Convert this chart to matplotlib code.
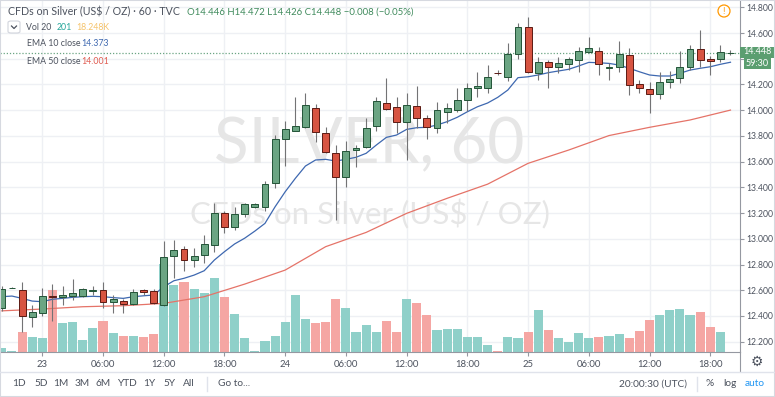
import numpy as np
import matplotlib
matplotlib.use('Agg')
import matplotlib.pyplot as plt
from matplotlib.patches import Rectangle, Ellipse, FancyBboxPatch
from matplotlib.lines import Line2D

plt.rcParams['font.family'] = ['Lato', 'DejaVu Sans']

# ── data: hourly candles, hour 0 = day 23 00:00 ──────────
hours = np.arange(-4, 69)
opens = [12.459, 12.620, 12.599, 12.389, 12.425, 12.555, 12.550, 12.557, 12.557, 12.592,
         12.599, 12.506, 12.518, 12.493, 12.602, 12.594, 12.485, 12.866, 12.921, 12.833,
         12.874, 12.954, 13.200, 13.089, 13.193, 13.249, 13.249, 13.436, 13.774, 13.841,
         13.872, 14.014, 13.820, 13.665, 13.483, 13.690, 13.716, 13.877, 14.059, 14.022,
         13.911, 14.032, 13.937, 13.864, 13.988, 13.999, 14.079, 14.175, 14.170, 14.293,
         14.260, 14.435, 14.644, 14.287, 14.377, 14.338, 14.356, 14.390, 14.455, 14.460,
         14.330, 14.338, 14.429, 14.201, 14.162, 14.126, 14.219, 14.247, 14.338, 14.473,
         14.395, 14.395, 14.446]
highs = [12.630, 12.623, 12.662, 12.485, 12.615, 12.646, 12.633, 12.687, 12.615, 12.633,
         12.662, 12.563, 12.530, 12.607, 12.607, 12.609, 12.985, 12.990, 12.946, 12.926,
         13.030, 13.281, 13.218, 13.245, 13.276, 13.280, 13.452, 13.807, 13.916, 14.105,
         14.131, 14.046, 13.867, 13.729, 13.763, 13.729, 13.937, 14.105, 14.248, 14.105,
         14.136, 14.188, 13.963, 14.066, 14.058, 14.175, 14.209, 14.299, 14.351, 14.310,
         14.520, 14.680, 14.722, 14.416, 14.390, 14.416, 14.416, 14.489, 14.571, 14.489,
         14.364, 14.541, 14.481, 14.235, 14.222, 14.299, 14.307, 14.462, 14.507, 14.623,
         14.421, 14.507, 14.472]
lows = [12.440, 12.617, 12.277, 12.312, 12.400, 12.363, 12.485, 12.524, 12.550, 12.563,
        12.459, 12.421, 12.423, 12.485, 12.563, 12.493, 12.477, 12.697, 12.752, 12.778,
        12.809, 12.900, 13.047, 13.068, 13.172, 13.240, 13.218, 13.392, 13.566, 13.838,
        13.859, 13.755, 13.665, 13.146, 13.400, 13.561, 13.704, 13.838, 14.000, 13.820,
        13.613, 13.859, 13.774, 13.820, 13.903, 13.988, 13.996, 14.105, 14.131, 14.270,
        14.229, 14.396, 14.287, 14.235, 14.170, 14.287, 14.312, 14.299, 14.442, 14.273,
        14.235, 14.299, 14.118, 14.131, 13.980, 14.085, 14.175, 14.209, 14.312, 14.338,
        14.273, 14.377, 14.426]
closes = [12.607, 12.621, 12.397, 12.428, 12.557, 12.545, 12.563, 12.581, 12.610, 12.602,
          12.508, 12.529, 12.490, 12.589, 12.584, 12.503, 12.856, 12.913, 12.833, 12.866,
          12.959, 13.203, 13.089, 13.190, 13.268, 13.268, 13.426, 13.776, 13.854, 13.880,
          14.040, 13.828, 13.672, 13.483, 13.683, 13.704, 13.859, 14.074, 14.007, 13.906,
          14.040, 13.937, 13.872, 13.999, 14.019, 14.079, 14.175, 14.188, 14.260, 14.289,
          14.437, 14.644, 14.295, 14.372, 14.338, 14.364, 14.398, 14.460, 14.486, 14.357,
          14.338, 14.435, 14.196, 14.175, 14.126, 14.222, 14.243, 14.338, 14.473, 14.390,
          14.382, 14.455, 14.448]
# volume in thousands
volume = [3.2, 0.8, 16.2, 12.0, 11.4, 49.6, 23.2, 24.0, 9.6, 19.4,
          24.8, 15.2, 12.8, 13.0, 12.0, 14.4, 70.2, 53.6, 56.2, 50.2,
          47.4, 59.0, 44.2, 30.4, 11.0, 1.0, 9.0, 12.8, 24.2, 45.6,
          26.2, 23.0, 24.0, 42.6, 35.4, 16.2, 21.4, 16.2, 25.0, 16.2,
          42.6, 39.0, 29.6, 17.6, 18.4, 18.2, 12.2, 11.8, 5.6, 1.0,
          12.2, 11.0, 16.2, 33.6, 17.6, 11.4, 8.2, 15.0, 11.0, 12.0,
          12.8, 14.4, 11.4, 17.0, 25.6, 29.8, 33.6, 34.6, 29.6, 32.0,
          19.8, 16.2, 0.2]
ema10 = [12.550, 12.555, 12.537, 12.516, 12.511, 12.530, 12.537, 12.545, 12.550, 12.553,
         12.550, 12.543, 12.537, 12.550, 12.557, 12.563, 12.627, 12.674, 12.693, 12.718,
         12.752, 12.835, 12.900, 12.960, 13.005, 13.060, 13.120, 13.249, 13.366, 13.470,
         13.566, 13.613, 13.618, 13.605, 13.618, 13.634, 13.665, 13.729, 13.789, 13.807,
         13.851, 13.864, 13.867, 13.885, 13.911, 13.945, 13.988, 14.027, 14.056, 14.100,
         14.157, 14.253, 14.260, 14.274, 14.292, 14.305, 14.318, 14.344, 14.372, 14.369,
         14.364, 14.351, 14.326, 14.299, 14.274, 14.266, 14.266, 14.287, 14.312, 14.326,
         14.338, 14.357, 14.373]
ema50_hours = [-4, 0, 4, 8, 12, 16, 20, 24, 28, 32, 36, 40, 44, 48, 52, 56, 60, 64, 68]
ema50 = [12.440, 12.454, 12.472, 12.480, 12.498, 12.550, 12.648, 12.757, 12.939, 13.050,
         13.198, 13.315, 13.425, 13.587, 13.690, 13.803, 13.867, 13.924, 14.001]

price_ticks = [12.2, 12.4, 12.6, 12.8, 13.0, 13.2, 13.4, 13.6, 13.8, 14.0, 14.2, 14.4, 14.6, 14.8]
time_ticks = [0, 6, 12, 18, 24, 30, 36, 42, 48, 54, 60, 66]
time_labels = ['23', '06:00', '12:00', '18:00', '24', '06:00', '12:00', '18:00',
               '25', '06:00', '12:00', '18:00']
last_price = 14.448

# ── layout helpers (pixel coords, origin top-left) ──────
W, H = 775, 397
def fx(x): return x / W
def fy(y): return 1 - y / H

TXT = '#4c525e'
GRID = '#eef0f4'
AXC = '#9598a1'

fig = plt.figure(figsize=(W / 100, H / 100), dpi=100)
fig.patch.set_facecolor('white')

rect = [0, fy(352), fx(740), 352 / H]
ax_bg = fig.add_axes(rect)
ax_vol = fig.add_axes(rect, facecolor='none')
ax = fig.add_axes(rect, facecolor='none')

XLIM = (-4.18, 68.94)
YLIM = (12.120, 14.857)
for a in (ax_bg, ax):
    a.set_xlim(*XLIM)
    a.set_ylim(*YLIM)
ax_vol.set_xlim(*XLIM)
ax_vol.set_ylim(0, 281.6)

# background grid + watermark
ax_bg.set_yticks(price_ticks)
ax_bg.set_xticks(time_ticks)
ax_bg.grid(True, color=GRID, lw=1)
ax_bg.tick_params(length=0, labelleft=False, labelbottom=False)
for s in ax_bg.spines.values():
    s.set_visible(False)
ax_bg.text(fx(369), fy(145), 'SILVER, 60', transform=fig.transFigure,
           ha='center', va='center', fontsize=46, color='#e6e6e6')
ax_bg.text(fx(370), fy(214), 'CFDs on Silver (US$ / OZ)', transform=fig.transFigure,
           ha='center', va='center', fontsize=22.5, color='#e6e6e6')

o = np.array(opens); c = np.array(closes)
up = c >= o

# volume
ax_vol.bar(hours, volume, width=0.9, color=np.where(up, '#8fd0c9', '#f5a6a3'), lw=0)
ax_vol.axis('off')

# EMAs
ax.plot(hours, ema10, color='#3e68b0', lw=0.9, zorder=2)
ax.plot(ema50_hours, ema50, color='#e57368', lw=0.9, zorder=2)
ax.axhline(last_price, color='#6ba583', lw=0.9, ls=(0, (1, 1.5)), zorder=2)

# candles
ax.vlines(hours, lows, highs, color='#737375', lw=0.8, zorder=3)
ax.bar(hours, c - o, bottom=o, width=0.68,
       color=np.where(up, '#6ba583', '#d75442'),
       edgecolor=np.where(up, '#225437', '#5b1a13'), lw=0.7, zorder=4)

# axes styling
ax.yaxis.tick_right()
ax.set_yticks(price_ticks)
ax.set_yticklabels(['' if abs(p - 14.4) < 1e-6 else f'{p:.3f}' for p in price_ticks])
ax.set_xticks(time_ticks)
ax.set_xticklabels(time_labels)
ax.tick_params(axis='y', length=3, width=0.8, pad=1.5, labelsize=6.2, colors=AXC, labelcolor=TXT)
ax.tick_params(axis='x', length=3, width=0.8, pad=3, labelsize=6.8, colors=AXC, labelcolor=TXT)
for k in ('top', 'left'):
    ax.spines[k].set_visible(False)
for k in ('right', 'bottom'):
    ax.spines[k].set_color(AXC)
    ax.spines[k].set_linewidth(0.8)

# header / legend
fig.text(fx(8), fy(12), 'CFDs on Silver (US$ / OZ) · 60 · TVC', fontsize=7.7, color=TXT, va='center')
fig.text(fx(187), fy(12), 'O14.446 H14.472 L14.426 C14.448 \u22120.008 (\u22120.05%)',
         fontsize=6.9, color='#3f8a5c', va='center')
fig.patches.append(FancyBboxPatch((fx(8), fy(33)), fx(12), 12 / H, boxstyle='round,pad=0,rounding_size=0.004',
                                  transform=fig.transFigure, fc='white', ec='#d1d4dc', lw=0.8))
fig.lines.append(Line2D([fx(11.5), fx(14), fx(16.5)], [fy(26), fy(28.5), fy(26)],
                        transform=fig.transFigure, color=TXT, lw=0.9))
fig.text(fx(26), fy(27), 'Vol 20', fontsize=6.3, color=TXT, va='center')
fig.text(fx(57), fy(27), '201', fontsize=6.3, color='#26a69a', va='center')
fig.text(fx(76), fy(27), '18.248K', fontsize=6.3, color='#f5c36b', va='center')
fig.text(fx(27), fy(44), 'EMA 10 close', fontsize=6.3, color=TXT, va='center')
fig.text(fx(81), fy(44), '14.373', fontsize=6.3, color='#3e68b0', va='center')
fig.text(fx(27), fy(61), 'EMA 50 close', fontsize=6.3, color=TXT, va='center')
fig.text(fx(81), fy(61), '14.001', fontsize=6.3, color='#e05a4f', va='center')

# warning icon
fig.patches.append(Ellipse((fx(724), fy(11)), 12 / W, 12 / H, transform=fig.transFigure,
                           fc='white', ec='#ff9800', lw=0.9))
fig.text(fx(724), fy(11.5), '!', fontsize=6.5, color='#ff9800', ha='center', va='center')

# last-price and countdown labels on the price scale
fig.patches.append(Rectangle((fx(740), fy(57.5)), 35 / W, 11 / H, transform=fig.transFigure,
                             fc='#5b9e70', ec='none'))
fig.text(fx(757.5), fy(52), '14.448', fontsize=6.5, color='white', ha='center', va='center')
fig.patches.append(Rectangle((fx(744), fy(69)), 27 / W, 11 / H, transform=fig.transFigure,
                             fc='#5b9e70', ec='none'))
fig.text(fx(757.5), fy(63.5), '59:30', fontsize=6.5, color='white', ha='center', va='center')

# time-axis gear + toolbar
fig.lines.append(Line2D([fx(740), fx(740)], [fy(352), fy(371)], transform=fig.transFigure,
                        color=AXC, lw=0.8))
fig.text(fx(757), fy(362), '\u2699', fontsize=10, color=TXT, ha='center', va='center',
         family='DejaVu Sans')
fig.lines.append(Line2D([0, 1], [fy(371.5), fy(371.5)], transform=fig.transFigure,
                        color='#e0e3eb', lw=1))
for lab, x in [('1D', 12), ('5D', 34), ('1M', 53), ('3M', 75), ('6M', 96), ('YTD', 117),
               ('1Y', 143), ('5Y', 163), ('All', 183), ('Go to...', 218),
               ('20:00:30 (UTC)', 619), ('%', 706), ('log', 723)]:
    fig.text(fx(x), fy(384), lab, fontsize=7.3, color=TXT, va='center')
fig.text(fx(745), fy(384), 'auto', fontsize=7.3, color='#2196f3', va='center')
for x in (207, 697):
    fig.lines.append(Line2D([fx(x), fx(x)], [fy(377), fy(391)], transform=fig.transFigure,
                            color='#e0e3eb', lw=1))

fig.patches.append(Rectangle((0, 0), 1, 1, transform=fig.transFigure, fill=False,
                             ec='#d6d9e0', lw=1.5))

fig.savefig('out.png', dpi=100, facecolor='white')
